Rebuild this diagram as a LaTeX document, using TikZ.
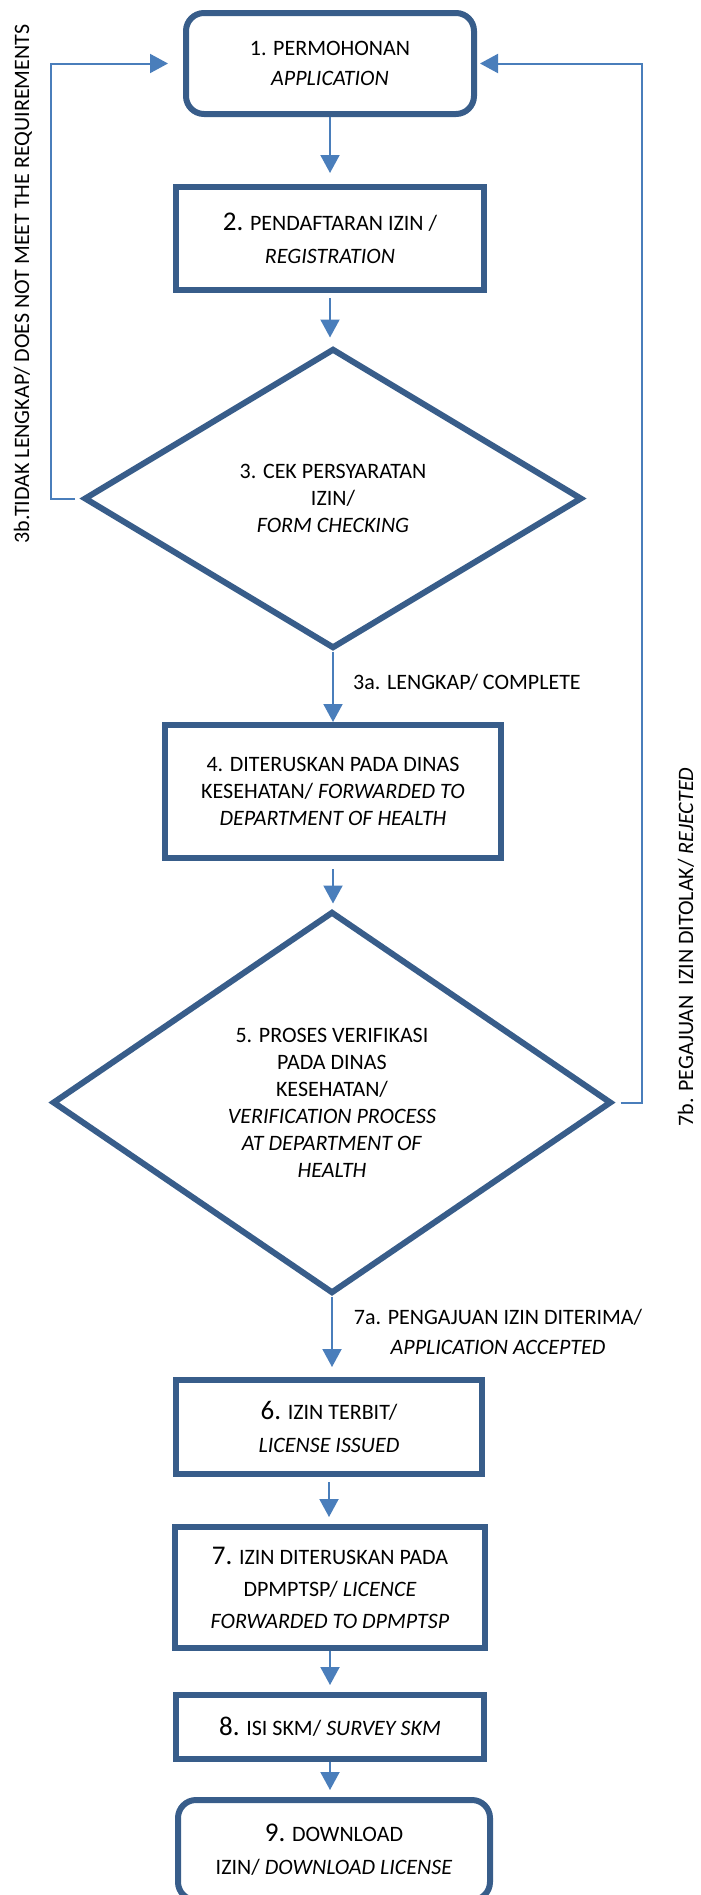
\documentclass[tikz,border=0pt]{standalone}
\usepackage{fontspec}
\setmainfont{Carlito}
\usetikzlibrary{shapes.geometric,arrows.meta}
\definecolor{boxblue}{RGB}{56,93,138}
\definecolor{linkblue}{RGB}{74,126,187}
\newcommand{\bignum}[1]{{\fontsize{27}{27}\selectfont #1}}

\begin{document}
\begin{tikzpicture}[x=1pt,y=-1pt,
    stepbox/.style={draw=boxblue,line width=6pt,rectangle,align=center,inner sep=0pt,font=\fontsize{22}{33}\selectfont},
    endbox/.style={stepbox,rounded corners=18pt},
    check/.style={draw=boxblue,line width=6pt,diamond,align=center,inner sep=0pt,font=\fontsize{22}{27}\selectfont},
    flow/.style={linkblue,line width=2pt,-{Triangle[length=18pt,width=19pt]}},
    note/.style={align=center,inner sep=0pt,font=\fontsize{22}{30}\selectfont}]
        \useasboundingbox (0,0) rectangle (701,1895);
        % main column
        \node[endbox,minimum width=288pt,minimum height=101pt] (b1) at (330,63.5) {1. PERMOHONAN\\[-3pt]\textit{APPLICATION}};
        \node[stepbox,minimum width=308pt,minimum height=103pt] (b2) at (330,238.5) {\bignum{2.} PENDAFTARAN IZIN /\\\textit{REGISTRATION}};
        \node[check,minimum width=498pt,minimum height=300pt] (d3) at (333,498.5) {3. CEK PERSYARATAN\\IZIN/\\\textit{FORM CHECKING}};
        \node[stepbox,minimum width=336pt,minimum height=133pt,font=\fontsize{22}{27}\selectfont] (b4) at (333,791.5) {4. DITERUSKAN PADA DINAS\\KESEHATAN/ \textit{FORWARDED TO}\\\textit{DEPARTMENT OF HEALTH}};
        \node[check,minimum width=559pt,minimum height=382pt] (d5) at (332,1102.5) {5. PROSES VERIFIKASI\\PADA DINAS\\KESEHATAN/\\\textit{VERIFICATION PROCESS}\\\textit{AT DEPARTMENT OF}\\\textit{HEALTH}};
        \node[stepbox,minimum width=306pt,minimum height=94pt] (b6) at (329,1427) {\bignum{6.} IZIN TERBIT/\\\textit{LICENSE ISSUED}};
        \node[stepbox,minimum width=310pt,minimum height=121pt,font=\fontsize{22}{32}\selectfont] (b7) at (330,1587.5) {\bignum{7.} IZIN DITERUSKAN PADA\\DPMPTSP/ \textit{LICENCE}\\\textit{FORWARDED TO DPMPTSP}};
        \node[stepbox,minimum width=308pt,minimum height=64pt] (b8) at (330,1727) {\bignum{8.} ISI SKM/ \textit{SURVEY SKM}};
        \node[endbox,minimum width=312pt,minimum height=100pt] (b9) at (334,1850) {\bignum{9.} DOWNLOAD\\IZIN/ \textit{DOWNLOAD LICENSE}};
        % labels
        \node[note,anchor=west] (l3a) at (353,682) {3a. LENGKAP/ COMPLETE};
        \node[note] (l7a) at (498,1332) {7a. PENGAJUAN IZIN DITERIMA/\\\textit{APPLICATION ACCEPTED}};
        \node[note,rotate=90] (l3b) at (23,284) {3b.TIDAK LENGKAP/ DOES NOT MEET THE REQUIREMENTS};
        \node[note,rotate=90] (l7b) at (686,947) {7b. PEGAJUAN\ \ IZIN DITOLAK/ \textit{REJECTED}};
        % arrows down the column
        \foreach \na/\nb/\gapa/\gapb in {b1/b2/0/11, b2/d3/5/8, d3/b4/0/0, b4/d5/8/5, d5/b6/0/10, b6/b7/5/7, b7/b8/0/7, b8/b9/0/7}{
            \draw[flow,shorten <=\gapa pt,shorten >=\gapb pt] (\na.south) -- (\na.south |- \nb.north);
        }
        % return lines
        \coordinate (lx) at (51,0);
        \coordinate (rx) at (642,0);
        \draw[flow,shorten <=6pt,shorten >=15pt] (d3.west) -- (d3.west -| lx) |- (b1.west);
        \draw[flow,shorten <=6pt,shorten >=3pt] (d5.east) -- (d5.east -| rx) |- (b1.east);
    \end{tikzpicture}
\end{document}
